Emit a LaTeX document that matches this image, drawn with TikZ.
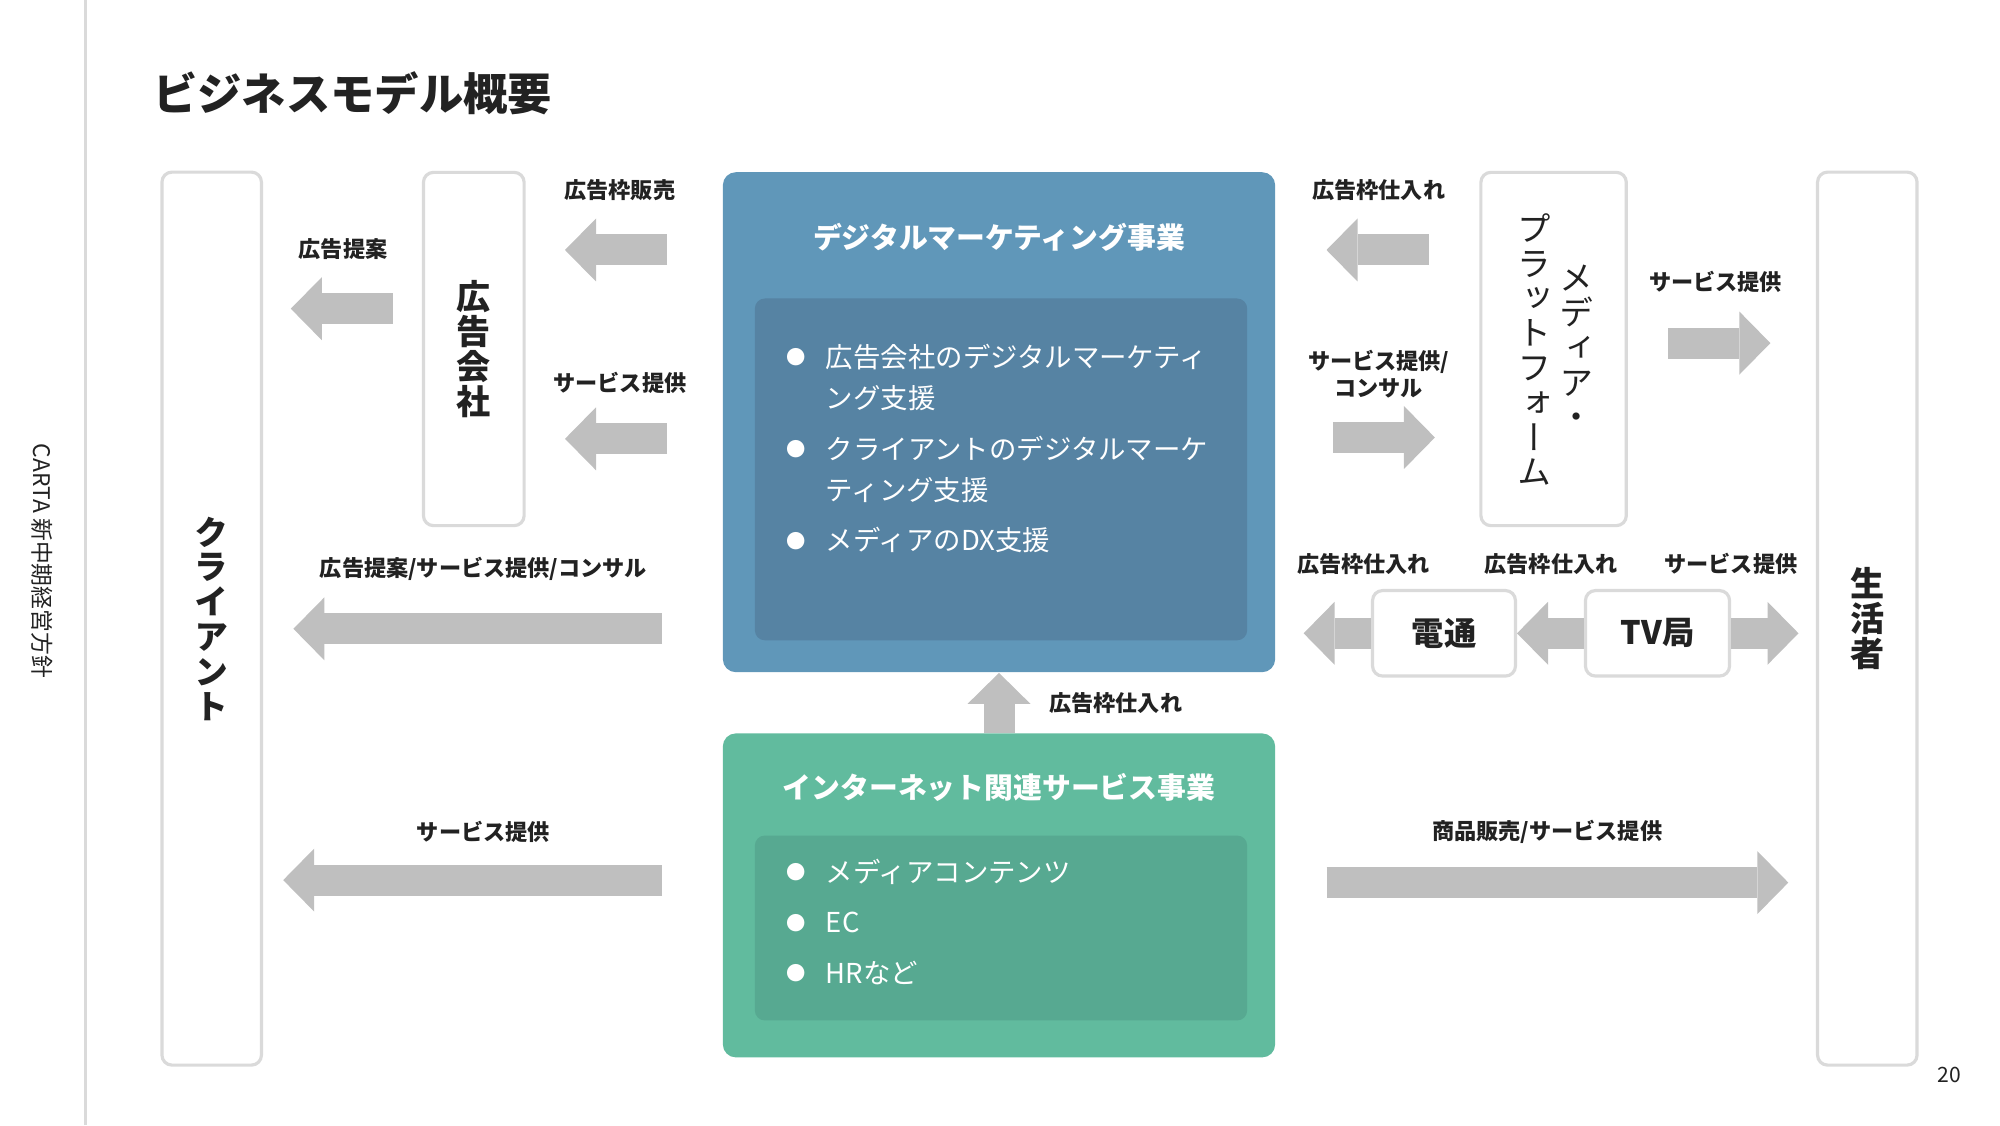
\documentclass[tikz,border=0pt]{standalone}
\usepackage{fontspec}
\setmainfont{Noto Sans CJK JP}
\newfontfamily\tatefont[RawFeature=+vert]{Noto Sans CJK JP}
\usetikzlibrary{arrows.meta}
\definecolor{ink}{HTML}{222222}
\definecolor{boxline}{HTML}{DADADA}
\definecolor{arrowgray}{HTML}{BFBFBF}
\definecolor{dmblue}{HTML}{6097B9}
\definecolor{dmbluein}{HTML}{5683A3}
\definecolor{netgreen}{HTML}{61BB9E}
\definecolor{netgreenin}{HTML}{57A991}
\newcommand\itemdot{\raisebox{0.8pt}{\fontsize{5.5}{6}\selectfont ●}}
\tikzset{
  actor/.style={draw=boxline, line width=0.9pt, fill=white, rounded corners=1mm, inner sep=0pt, text=ink},
  tate/.style={align=center, font=\tatefont\fontsize{9.7}{9.9}\selectfont\bfseries},
  unit/.style={draw=none, rounded corners=1.3mm, inner sep=0pt},
  unittitle/.style={text=white, font=\fontsize{8.2}{9}\selectfont\bfseries},
  unitinner/.style={draw=none, rounded corners=1mm, inner sep=0pt},
  items/.style={text=white, inner sep=0pt, font=\fontsize{7.8}{11.8}\selectfont},
  lbl/.style={text=ink, font=\fontsize{6.3}{7.6}\selectfont\bfseries},
  fat/.style={draw=arrowgray, line width=3.1mm, -{Triangle[width=6.3mm,length=3.1mm,line width=0pt]}}
}
\begin{document}
\begin{tikzpicture}
\useasboundingbox (0,0) rectangle (20,11.25);
% page frame
\draw[boxline, line width=0.6pt] (0.855,0) -- (0.855,11.25);
\node[rotate=-90, text=ink, font=\fontsize{6.5}{7}\selectfont] (deck) at (0.42,5.64) {CARTA 新中期経営方針};
\node[anchor=west, text=ink, font=\fontsize{12.6}{14}\selectfont\bfseries] (title) at (1.41,10.32) {ビジネスモデル概要};
\node[text=ink, font=\fontsize{6}{7}\selectfont] (page) at (19.49,0.50) {20};

% players
\node[actor, tate, minimum width=0.995cm, minimum height=8.93cm] (client) at (2.117,5.064) {ク\\ラ\\イ\\ア\\ン\\ト};
\node[actor, tate, minimum width=1.007cm, minimum height=3.533cm] (agency) at (4.738,7.76) {広\\告\\会\\社};
\node[actor, minimum width=1.454cm, minimum height=3.533cm] (media) at (15.536,7.76) {};
\node[tate, font=\tatefont\fontsize{9.7}{9.9}\selectfont\mdseries, text=ink] (mediaR) at (15.765,7.774) {メ\\デ\\ィ\\ア\\・};
\node[tate, font=\tatefont\fontsize{9.7}{9.9}\selectfont\mdseries, text=ink] (mediaL) at (15.344,7.755) {プ\\ラ\\ッ\\ト\\フ\\ォ\\ー\\ム};
\node[actor, tate, minimum width=0.995cm, minimum height=8.93cm] (consumer) at (18.673,5.064) {生\\活\\者};
\node[actor, font=\fontsize{9.2}{10}\selectfont\bfseries, minimum width=1.429cm, minimum height=0.855cm] (dentsu) at (14.44,4.917) {電通};
\node[actor, font=\fontsize{9.2}{10}\selectfont\bfseries, minimum width=1.441cm, minimum height=0.855cm] (tv) at (16.575,4.917) {TV局};

% business units
\node[unit, fill=dmblue, minimum width=5.523cm, minimum height=5.0cm] (dm) at (9.99,7.028) {};
\node[unittitle] (dmtitle) at (9.99,8.878) {デジタルマーケティング事業};
\node[unitinner, fill=dmbluein, minimum width=4.923cm, minimum height=3.418cm] (dmin) at (10.01,6.556) {};
\node[items, anchor=base west] (dmlist) at (7.862,7.576) {\begin{tabular}[t]{@{}l@{\hspace{1.97mm}}l@{}}
\itemdot & 広告会社のデジタルマーケティ\\
 & ング支援\\[2.5pt]
\itemdot & クライアントのデジタルマーケ\\
 & ティング支援\\[2.5pt]
\itemdot & メディアのDX支援
\end{tabular}};

\node[unit, fill=netgreen, minimum width=5.523cm, minimum height=3.24cm] (inet) at (9.99,2.296) {};
\node[unittitle] (inettitle) at (9.99,3.38) {インターネット関連サービス事業};
\node[unitinner, fill=netgreenin, minimum width=4.923cm, minimum height=1.849cm] (inetin) at (10.01,1.97) {};
\node[items, anchor=base west] (inetlist) at (7.862,2.423) {\begin{tabular}[t]{@{}l@{\hspace{1.97mm}}l@{}}
\itemdot & メディアコンテンツ\\[2.5pt]
\itemdot & EC\\[2.5pt]
\itemdot & HRなど
\end{tabular}};

% arrow ends
\coordinate (sellT) at (6.671,8.75);    \coordinate (sellH) at (5.65,8.75);
\coordinate (propT) at (3.929,8.163);   \coordinate (propH) at (2.908,8.163);
\coordinate (agsvcT) at (6.671,6.862);  \coordinate (agsvcH) at (5.65,6.862);
\coordinate (mixT) at (6.62,4.962);     \coordinate (mixH) at (2.934,4.962);
\coordinate (netsvcT) at (6.62,2.449);  \coordinate (netsvcH) at (2.832,2.449);
\coordinate (buyT) at (14.286,8.75);    \coordinate (buyH) at (13.265,8.75);
\coordinate (consT) at (13.329,6.875);  \coordinate (consH) at (14.349,6.875);
\coordinate (mdsvcT) at (16.684,7.819); \coordinate (mdsvcH) at (17.704,7.819);
\coordinate (dentsuH) at (13.036,4.917);
\coordinate (tvH) at (17.985,4.917);
\coordinate (salesT) at (13.265,2.424); \coordinate (salesH) at (17.883,2.424);

% flows
\draw[fat] (sellT) -- (sellH);
\draw[fat] (propT) -- (propH);
\draw[fat] (agsvcT) -- (agsvcH);
\draw[fat] (mixT) -- (mixH);
\draw[fat] (netsvcT) -- (netsvcH);
\draw[fat] (inet.north) -- (dm.south);
\draw[fat] (buyT) -- (buyH);
\draw[fat] (consT) -- (consH);
\draw[fat] (mdsvcT) -- (mdsvcH);
\draw[fat] (dentsu.west) -- (dentsuH);
\draw[fat] (tv.west) -- (dentsu.east);
\draw[fat] (tv.east) -- (tvH);
\draw[fat] (salesT) -- (salesH);

% flow labels
\node[lbl] (sellL) at (6.199,9.35) {広告枠販売};
\node[lbl] (propL) at (3.431,8.763) {広告提案};
\node[lbl] (agsvcL) at (6.199,7.423) {サービス提供};
\node[lbl] (mixL) at (4.834,5.561) {広告提案/サービス提供/コンサル};
\node[lbl] (netsvcL) at (4.834,2.934) {サービス提供};
\node[lbl, anchor=west] (upL) at (10.37,4.222) {広告枠仕入れ};
\node[lbl] (buyL) at (13.788,9.35) {広告枠仕入れ};
\node[lbl, align=center] (consL) at (13.788,7.506) {サービス提供/\\コンサル};
\node[lbl] (mdsvcL) at (17.155,8.431) {サービス提供};
\node[lbl] (dentsuL) at (13.635,5.612) {広告枠仕入れ};
\node[lbl] (tvL) at (15.51,5.612) {広告枠仕入れ};
\node[lbl] (tvsvcL) at (17.309,5.612) {サービス提供};
\node[lbl] (salesL) at (15.472,2.934) {商品販売/サービス提供};
\end{tikzpicture}
\end{document}
